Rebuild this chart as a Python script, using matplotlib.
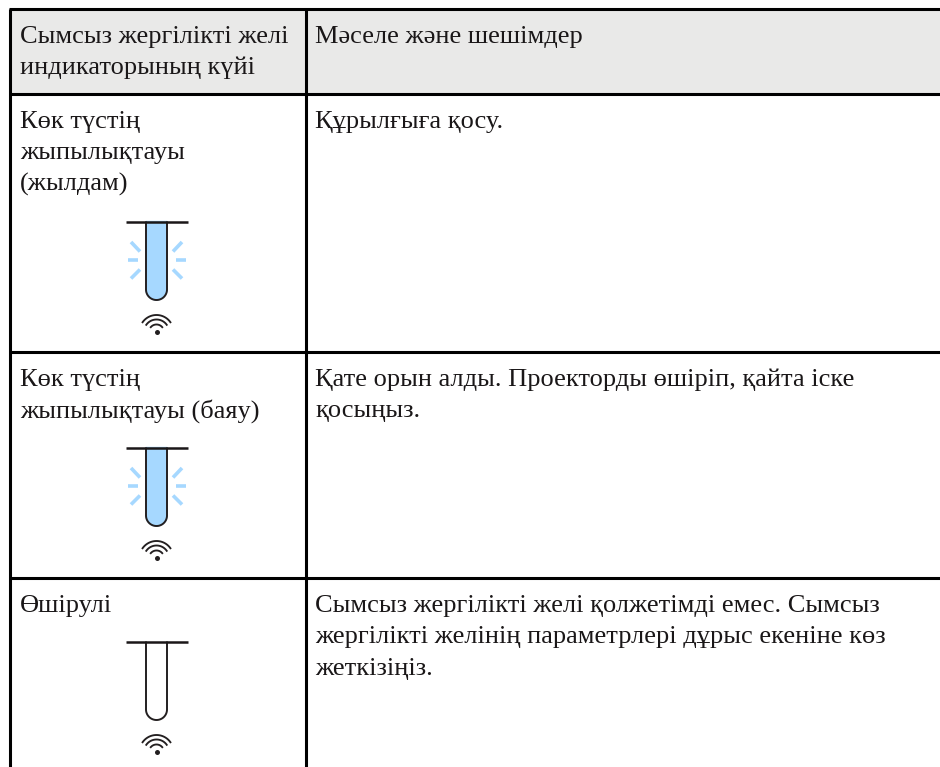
import matplotlib
matplotlib.use('Agg')
import matplotlib.pyplot as plt
import numpy as np
from matplotlib.patches import Rectangle

plt.rcParams['font.family'] = ['Liberation Serif', 'DejaVu Serif']

W, H = 940, 767
LINE_H = 31.3
FONT = 19

header = ['Сымсыз жергілікті желі\nиндикаторының күйі', 'Мәселе және шешімдер']
status = ['Көк түстің\nжыпылықтауы\n(жылдам)', 'Көк түстің\nжыпылықтауы (баяу)', 'Өшірулі']
solution = [
    'Құрылғыға қосу.',
    'Қате орын алды. Проекторды өшіріп, қайта іске\nқосыңыз.',
    'Сымсыз жергілікті желі қолжетімді емес. Сымсыз\nжергілікті желінің параметрлері дұрыс екеніне көз\nжеткізіңіз.',
]
fills = ['#a6d8ff', '#a6d8ff', 'white']
blinking = [True, True, False]

h_lines = [9, 94, 352, 578]
col_x = [10, 306]
icon_tops = [221.5, 447.5, 641.5]


def draw_text(x, y, s):
    for i, part in enumerate(s.split('\n')):
        ax.text(x, y + i * LINE_H, part, fontsize=FONT, color='#1a1718', va='baseline', ha='left')


def draw_icon(top, fill, blink):
    cx = 156.5
    # tube body with rounded bottom
    t = np.linspace(np.pi, 0, 40)
    xs = np.r_[cx - 10.5, cx + 10.5 * np.cos(t), cx + 10.5]
    ys = np.r_[top, top + 68 + 10.5 * np.sin(t), top]
    ax.fill(xs, ys, color=fill, zorder=2)
    ax.plot(xs, ys, color='#231f20', lw=1.4, zorder=3, solid_capstyle='butt')
    ax.plot([cx - 31, cx + 31], [top, top], color='#1a1718', lw=1.8, zorder=4, solid_capstyle='butt')
    if blink:
        for x0, y0, x1, y1 in [(-25.5, 20.5, -16.5, 30), (25.5, 20.5, 16.5, 30), (-29, 38.5, -19, 38.5),
                               (29, 38.5, 19, 38.5), (-25.5, 57, -16.5, 48), (25.5, 57, 16.5, 48)]:
            ax.plot([cx + x0, cx + x1], [top + y0, top + y1], color=fill, lw=2.6, zorder=2,
                    solid_capstyle='butt')
    # wifi symbol
    wy = top + 110.5
    for r, half in [(17, 55), (12.5, 55), (7.5, 50)]:
        a = np.radians(np.linspace(-90 - half, -90 + half, 30))
        ax.plot(cx + r * np.cos(a), wy + r * np.sin(a), color='#231f20', lw=1.35, zorder=3)
    ax.plot([cx], [wy], 'o', color='#231f20', ms=3.6, mew=0, zorder=3)


fig = plt.figure(figsize=(W / 100, H / 100), dpi=100)
ax = fig.add_axes([0, 0, 1, 1])
ax.set_xlim(0, W)
ax.set_ylim(H, 0)
ax.axis('off')

ax.add_patch(Rectangle((col_x[0], h_lines[0]), W - col_x[0], h_lines[1] - h_lines[0], color='#e9e9e8', zorder=0))

for y in h_lines:
    ax.plot([col_x[0] - 1.5, W], [y, y], color='black', lw=2.2, zorder=5, solid_capstyle='butt')
for x in col_x:
    ax.plot([x, x], [h_lines[0], H], color='black', lw=2.2, zorder=5, solid_capstyle='butt')

draw_text(20, 43, header[0])
draw_text(315, 43, header[1])
for i in range(3):
    draw_text(20, h_lines[i + 1] + 34, status[i])
    draw_text(315, h_lines[i + 1] + 34, solution[i])
    draw_icon(icon_tops[i], fills[i], blinking[i])

fig.savefig('out.png', dpi=100)
